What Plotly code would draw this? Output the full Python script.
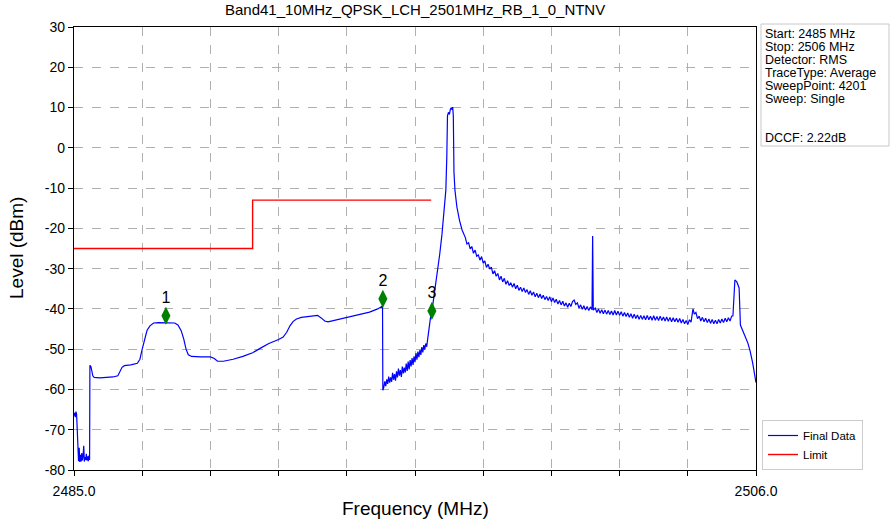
import plotly.graph_objects as go

title_text = "Band41_10MHz_QPSK_LCH_2501MHz_RB_1_0_NTNV"
x_title = "Frequency (MHz)"
y_title = "Level (dBm)"

freq = [
    2485.00, 2485.02, 2485.04, 2485.06, 2485.08, 2485.10, 2485.12, 2485.14, 2485.16, 2485.18,
    2485.20, 2485.22, 2485.24, 2485.26, 2485.28, 2485.30, 2485.32, 2485.34, 2485.36, 2485.38,
    2485.40, 2485.42, 2485.44, 2485.46, 2485.48, 2485.49,
    2485.52, 2485.55, 2485.58, 2485.62, 2485.80, 2486.00, 2486.20, 2486.35, 2486.42, 2486.48,
    2486.55, 2486.75, 2486.95, 2487.03, 2487.10, 2487.17, 2487.25, 2487.34, 2487.45, 2487.60,
    2487.90, 2488.10, 2488.20, 2488.30, 2488.38, 2488.45, 2488.52, 2488.62, 2488.90, 2489.20,
    2489.32, 2489.42, 2489.60, 2489.90, 2490.20, 2490.50, 2490.73, 2491.00, 2491.30, 2491.44,
    2491.55, 2491.65, 2491.75, 2491.85, 2492.00, 2492.30, 2492.50, 2492.62, 2492.72, 2492.82,
    2493.20, 2493.60, 2494.10, 2494.35, 2494.50, 2494.51,
    2494.54, 2494.57, 2494.60, 2494.63, 2494.66, 2494.69, 2494.72, 2494.75, 2494.78, 2494.81,
    2494.84, 2494.87, 2494.90, 2494.93, 2494.96, 2494.99, 2495.02, 2495.05, 2495.08, 2495.11,
    2495.14, 2495.17, 2495.20, 2495.23, 2495.26, 2495.29, 2495.32, 2495.35, 2495.38, 2495.41,
    2495.44, 2495.47, 2495.50, 2495.53, 2495.56, 2495.59, 2495.62, 2495.65, 2495.68, 2495.71,
    2495.74, 2495.77, 2495.80, 2495.83, 2495.86, 2495.89, 2495.92, 2495.95, 2495.98, 2496.02,
    2496.10, 2496.18, 2496.26, 2496.33, 2496.40, 2496.45, 2496.48, 2496.50, 2496.53, 2496.56,
    2496.59, 2496.62, 2496.64, 2496.66, 2496.68, 2496.70, 2496.73, 2496.79, 2496.87, 2496.95,
    2497.05, 2497.10, 2497.15, 2497.20, 2497.25, 2497.30, 2497.35, 2497.40, 2497.45, 2497.50,
    2497.55, 2497.60, 2497.65, 2497.70, 2497.75, 2497.80, 2497.85, 2497.90, 2497.95, 2498.00,
    2498.05, 2498.10, 2498.15, 2498.20, 2498.25, 2498.30, 2498.35, 2498.40, 2498.45, 2498.50,
    2498.55, 2498.60, 2498.65, 2498.70, 2498.75, 2498.80, 2498.85, 2498.90, 2498.95, 2499.00,
    2499.05, 2499.10, 2499.15, 2499.20, 2499.25, 2499.30, 2499.35, 2499.40, 2499.45, 2499.50,
    2499.55, 2499.60, 2499.65, 2499.70, 2499.75, 2499.80, 2499.85, 2499.90, 2499.95, 2500.00,
    2500.05, 2500.10, 2500.15, 2500.20, 2500.25, 2500.30, 2500.35, 2500.40, 2500.45, 2500.50,
    2500.55, 2500.60, 2500.65, 2500.70, 2500.75, 2500.80, 2500.85, 2500.90, 2500.95, 2500.97,
    2500.99, 2501.05, 2501.10, 2501.15, 2501.20, 2501.25, 2501.30, 2501.35, 2501.40, 2501.45,
    2501.50, 2501.55, 2501.60, 2501.65, 2501.70, 2501.75, 2501.80, 2501.85, 2501.90, 2501.95,
    2502.00, 2502.05, 2502.10, 2502.15, 2502.20, 2502.25, 2502.30, 2502.35, 2502.40, 2502.45,
    2502.50, 2502.55, 2502.60, 2502.65, 2502.70, 2502.75, 2502.80, 2502.85, 2502.90, 2502.95,
    2503.00, 2503.05, 2503.10, 2503.15, 2503.20, 2503.25, 2503.30, 2503.35, 2503.40, 2503.45,
    2503.50, 2503.55, 2503.60, 2503.65, 2503.70, 2503.75, 2503.80, 2503.85, 2503.90, 2503.95,
    2504.00, 2504.04, 2504.06, 2504.10, 2504.15, 2504.20, 2504.25, 2504.30, 2504.35, 2504.40,
    2504.45, 2504.50, 2504.55, 2504.60, 2504.65, 2504.70, 2504.75, 2504.80, 2504.85, 2504.90,
    2504.95, 2505.00, 2505.05, 2505.10, 2505.15, 2505.20, 2505.25, 2505.29,
    2505.33, 2505.35, 2505.41, 2505.45, 2505.48, 2505.52, 2505.58, 2505.66, 2505.75, 2505.82,
    2505.90, 2506.00,
]

level = [
    -66.5, -65.8, -66.9, -65.5, -66.2, -70.5, -74.0, -77.8, -74.5, -78.0,
    -76.2, -77.9, -75.8, -77.6, -76.5, -74.0, -77.9, -76.8, -77.5, -76.0,
    -77.6, -76.6, -77.8, -76.4, -77.5, -54.0,
    -54.3, -55.5, -56.6, -57.0, -57.1, -57.0, -56.9, -56.6, -55.6, -54.5,
    -54.1, -53.9, -53.5, -52.5, -50.0, -47.5, -45.3, -44.2, -43.5, -43.4,
    -43.4, -43.5, -44.0, -45.4, -47.5, -50.0, -51.4, -51.8, -51.9, -51.9,
    -52.3, -53.0, -53.0, -52.5, -51.8, -50.9, -49.8, -48.6, -47.6, -47.0,
    -45.8, -44.2, -43.1, -42.5, -42.1, -41.8, -41.6, -42.3, -43.0, -43.2,
    -42.5, -41.8, -40.8, -40.0, -39.3, -60.2,
    -59.5, -58.0, -59.2, -57.5, -58.6, -56.8, -58.3, -57.0, -58.1, -55.9,
    -57.6, -56.2, -57.8, -55.5, -57.0, -54.8, -56.6, -55.2, -56.9, -54.3,
    -56.0, -54.6, -55.8, -53.6, -55.4, -53.1, -55.0, -52.7, -54.3, -52.2,
    -53.9, -51.8, -53.2, -51.0, -52.6, -50.6, -52.0, -50.2, -51.4, -49.5,
    -50.8, -49.0, -50.1, -48.6, -49.4, -47.5, -45.5, -43.6, -42.0, -40.6,
    -36.0, -32.0, -26.5, -21.5, -15.5, -10.5, -2.0, 8.0, 8.8, 8.3,
    9.6, 10.0, 9.4, 10.1, 8.0, -6.0, -10.5, -14.7, -18.0, -20.4,
    -22.3, -23.9, -23.6, -25.1, -24.5, -26.2, -25.4, -26.9, -26.6, -27.9,
    -27.0, -28.6, -28.1, -29.7, -28.9, -30.1, -29.6, -31.3, -30.5, -31.9,
    -31.2, -32.8, -31.9, -33.3, -32.4, -33.9, -33.0, -34.2, -33.5, -34.6,
    -33.7, -35.0, -34.1, -35.4, -34.6, -35.7, -34.8, -35.9, -35.2, -36.4,
    -35.5, -36.6, -35.8, -37.0, -36.1, -37.2, -36.3, -37.4, -36.6, -37.7,
    -36.9, -37.9, -37.0, -38.2, -37.3, -38.4, -37.6, -38.8, -37.9, -39.0,
    -38.1, -39.3, -38.5, -39.6, -38.6, -39.4, -38.2, -37.8, -38.9, -38.5,
    -39.8, -39.0, -40.1, -39.2, -40.3, -39.4, -40.4, -39.5, -40.2, -21.9,
    -40.3, -39.8, -40.9, -40.0, -41.1, -40.2, -41.2, -40.3, -41.3, -40.4,
    -41.4, -40.5, -41.5, -40.4, -41.5, -40.6, -41.6, -40.7, -41.8, -40.9,
    -41.9, -41.0, -42.1, -41.2, -42.3, -41.3, -42.4, -41.5, -42.6, -41.6,
    -42.6, -41.7, -42.7, -41.6, -42.7, -41.8, -42.8, -41.7, -42.8, -41.9,
    -42.9, -41.8, -42.9, -42.0, -43.0, -42.0, -43.1, -42.1, -43.2, -42.2,
    -43.2, -42.3, -43.3, -42.4, -43.5, -42.6, -43.7, -42.9, -43.9, -42.7,
    -43.3, -41.0, -40.0, -41.3, -40.9, -42.4, -41.8, -43.0, -42.1, -43.2,
    -42.3, -43.4, -42.5, -43.6, -42.6, -43.7, -42.8, -43.7, -42.6, -43.5,
    -42.5, -43.4, -42.3, -43.2, -42.2, -43.0, -41.8, -41.7,
    -33.5, -32.8, -33.3, -34.2, -34.8, -44.0, -45.3, -46.5, -48.5, -50.5,
    -53.5, -58.3,
]

limit_freq = [2485.0, 2490.5, 2490.5, 2496.0]
limit_level = [-25.0, -25.0, -13.0, -13.0]

marker_freq = [2487.83, 2494.51, 2496.02]
marker_level = [-41.7, -37.5, -40.5]
marker_labels = ["1", "2", "3"]

x_tick_vals = [2485.0, 2487.1, 2489.2, 2491.3, 2493.4, 2495.5, 2497.6, 2499.7, 2501.8, 2503.9, 2506.0]
x_tick_text = ["2485.0", "", "", "", "", "", "", "", "", "", "2506.0"]
y_tick_vals = [30, 20, 10, 0, -10, -20, -30, -40, -50, -60, -70, -80]
y_tick_text = ["30", "20", "10", "0", "-10", "-20", "-30", "-40", "-50", "-60", "-70", "-80"]

info_lines = ["Start: 2485 MHz", "Stop: 2506 MHz", "Detector: RMS", "TraceType: Average",
              "SweepPoint: 4201", "Sweep: Single", "", "", "DCCF: 2.22dB"]

FONT = "Liberation Sans, Arial, sans-serif"

fig = go.Figure()
fig.add_trace(go.Scatter(x=freq, y=level, mode="lines", name="Final Data",
                         line=dict(color="#0000ff", width=1.2)))
fig.add_trace(go.Scatter(x=limit_freq, y=limit_level, mode="lines", name="Limit",
                         line=dict(color="#ff0000", width=1.4)))
fig.add_trace(go.Scatter(x=marker_freq, y=marker_level, mode="markers+text",
                         text=marker_labels, textposition="top center",
                         textfont=dict(size=16, color="black", family=FONT),
                         marker=dict(symbol="diamond-tall", size=13, color="#008000"),
                         showlegend=False))

W, H = 891, 524
L, R, T, B = 74, 135, 27, 54
pw = W - L - R
ph = H - T - B

def px_x(px):
    return (px - L) / pw

def px_y(py):
    return 1 - (py - T) / ph

annotations = [
    dict(text=title_text, x=0.5, y=px_y(10), xref="paper", yref="paper",
         showarrow=False, font=dict(size=15, color="black", family=FONT),
         xanchor="center", yanchor="middle"),
    dict(text=x_title, x=0.5, y=px_y(508), xref="paper", yref="paper",
         showarrow=False, font=dict(size=19, color="black", family=FONT),
         xanchor="center", yanchor="middle"),
    dict(text=y_title, x=px_x(16), y=px_y(248), xref="paper", yref="paper",
         showarrow=False, textangle=-90, font=dict(size=19, color="black", family=FONT),
         xanchor="center", yanchor="middle"),
]
line_y0 = 34
for i, t in enumerate(info_lines):
    if t:
        annotations.append(dict(text=t, x=px_x(763), y=px_y(line_y0 + i * 13.0),
                                xref="paper", yref="paper", showarrow=False,
                                xanchor="left", yanchor="middle",
                                font=dict(size=12.5, color="black", family=FONT)))

shapes = [dict(type="rect", xref="paper", yref="paper",
               x0=px_x(761), x1=px_x(889), y0=px_y(146), y1=px_y(24),
               line=dict(color="#c8c8c8", width=1), fillcolor="rgba(255,255,255,0)")]

fig.update_layout(
    width=W, height=H,
    margin=dict(l=L, r=R, t=T, b=B),
    paper_bgcolor="white", plot_bgcolor="white",
    font=dict(family=FONT, color="black", size=14),
    annotations=annotations,
    shapes=shapes,
    legend=dict(x=px_x(762), y=0.0, xanchor="left", yanchor="bottom",
                bordercolor="#cccccc", borderwidth=1, bgcolor="white",
                font=dict(size=11.5, family=FONT), tracegroupgap=0),
    xaxis=dict(range=[2485, 2506], tickvals=x_tick_vals, ticktext=x_tick_text,
               showgrid=True, gridcolor="#b0b0b0", griddash="dash", gridwidth=0.8,
               showline=True, linecolor="black", linewidth=1.3, mirror=True,
               ticks="outside", ticklen=5, tickcolor="black", ticklabelstandoff=3,
               tickfont=dict(size=14), zeroline=False, automargin=False),
    yaxis=dict(range=[-80, 30], tickvals=y_tick_vals, ticktext=y_tick_text,
               showgrid=True, gridcolor="#b0b0b0", griddash="dash", gridwidth=0.8,
               showline=True, linecolor="black", linewidth=1.3, mirror=True,
               ticks="outside", ticklen=5, tickcolor="black",
               tickfont=dict(size=14), zeroline=False, automargin=False),
)

fig.write_html("out.html")
